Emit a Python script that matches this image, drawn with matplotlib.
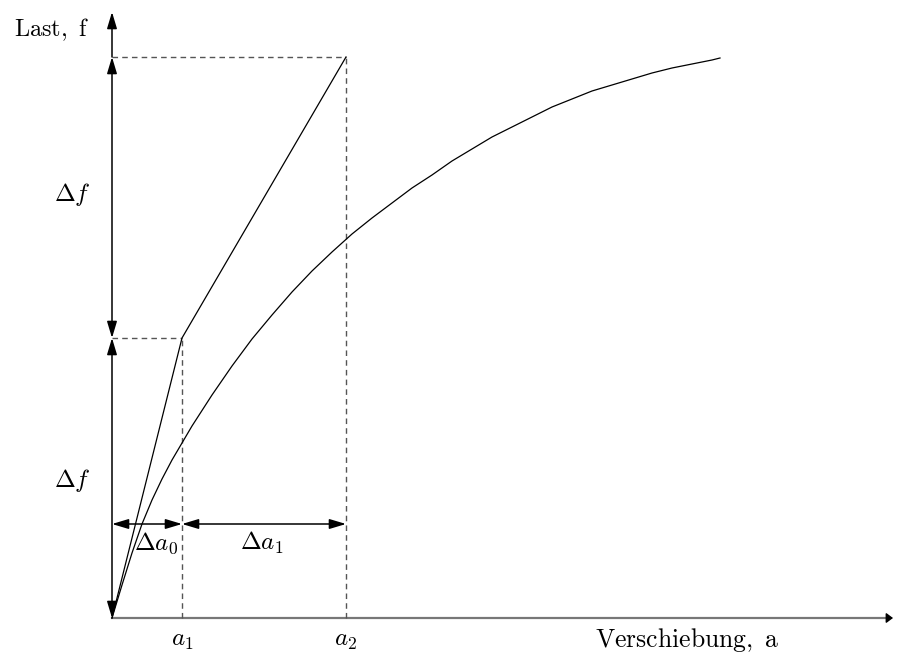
"""Schematic load-displacement diagram (Last / Verschiebung) with secant steps."""
import matplotlib

matplotlib.use("Agg")
import matplotlib.pyplot as plt  # noqa: E402

plt.rcParams["mathtext.fontset"] = "cm"

curve_a = [0, 10, 20, 30, 40, 50, 60, 70, 80, 100, 120, 140, 160, 180, 200,
           220, 240, 260, 280, 300, 320, 340, 360, 380, 400, 420, 440, 460,
           480, 500, 520, 540, 560, 580, 600, 608]
curve_f = [0, 33, 65, 94, 118, 139, 158, 175, 192, 223, 252, 279, 303, 326,
           347, 366, 384, 400, 415, 430, 443, 457, 469, 481, 491, 501, 511,
           519, 527, 533, 539, 545, 550, 554, 558, 560]

# secant points: displacements a1, a2 and load levels f1, f2
step_a = [0, 70, 234]
step_f = [0, 280, 561]
dim_level = 94          # height of the horizontal dimension arrows
axis_top = 606
axis_right = 781

DASH = "#555555"


def dim_arrow(ax, p0, p1, style="<|-|>", color="black", lw=1.1, scale=20):
    ax.annotate("", xy=p1, xytext=p0,
                arrowprops=dict(arrowstyle=f"{style},head_length=0.5,head_width=0.15",
                                mutation_scale=scale, shrinkA=0, shrinkB=0,
                                lw=lw, color=color))


def main() -> None:
    fig = plt.figure(figsize=(8.97, 6.56), dpi=100)
    ax = fig.add_axes([0, 0, 1, 1])
    ax.set_xlim(-112, 785)
    ax.set_ylim(-38, 618)
    ax.axis("off")

    # axes
    ax.plot([0, axis_right - 4], [0, 0], color="#777777", lw=1.6)
    ax.annotate("", xy=(axis_right, 0), xytext=(axis_right - 6, 0),
                arrowprops=dict(arrowstyle="-|>,head_length=0.4,head_width=0.3",
                                mutation_scale=10, shrinkA=0, shrinkB=0,
                                lw=1, color="black"))
    dim_arrow(ax, (0, step_f[2]), (0, axis_top), style="-|>")

    # vertical dimension arrows (delta f)
    dim_arrow(ax, (0, step_f[0]), (0, step_f[1]))
    dim_arrow(ax, (0, step_f[1]), (0, step_f[2]))

    # horizontal dimension arrows (delta a)
    dim_arrow(ax, (step_a[0], dim_level), (step_a[1], dim_level))
    dim_arrow(ax, (step_a[1], dim_level), (step_a[2], dim_level))

    # dashed guides
    for a, f in zip(step_a[1:], step_f[1:]):
        ax.plot([0, a], [f, f], color=DASH, lw=1, linestyle=(0, (4, 3)))
        ax.plot([a, a], [0, f], color=DASH, lw=1, linestyle=(0, (4, 3)))

    # secant lines and measured curve
    ax.plot(step_a, step_f, color="black", lw=0.9)
    ax.plot(curve_a, curve_f, color="black", lw=0.9, solid_joinstyle="round")

    # labels
    ax.text(-98, 588, r"$\mathrm{Last,\ f}$", fontsize=17.5, ha="left", va="center")
    ax.text(483, -22, r"$\mathrm{Verschiebung,\ a}$", fontsize=18.5,
            ha="left", va="center")
    ax.text(step_a[1], -22, r"$a_1$", fontsize=18, ha="center", va="center")
    ax.text(step_a[2], -22, r"$a_2$", fontsize=18, ha="center", va="center")
    ax.text(-40, 423, r"$\Delta f$", fontsize=18, ha="center", va="center")
    ax.text(-40, 138, r"$\Delta f$", fontsize=18, ha="center", va="center")
    ax.text(44, 75, r"$\Delta a_0$", fontsize=18, ha="center", va="center")
    ax.text(150, 75, r"$\Delta a_1$", fontsize=18, ha="center", va="center")

    fig.savefig("out.png", dpi=100)


if __name__ == "__main__":
    main()
